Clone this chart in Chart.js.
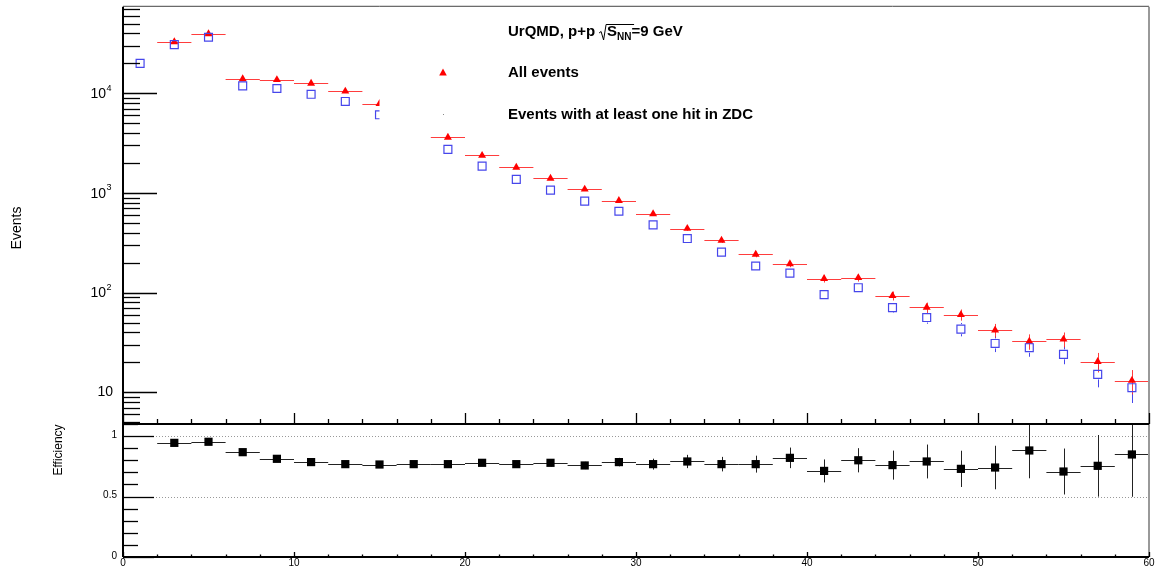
<!DOCTYPE html>
<html>
<head>
<meta charset="utf-8">
<script src="https://cdn.jsdelivr.net/npm/chart.js@4.4.0/dist/chart.umd.min.js"></script>
<style>
  body { margin: 0; background: #fff; }
  #wrap { position: relative; width: 1165px; height: 572px; }
  canvas { position: absolute; left: 0; top: 0; }
</style>
</head>
<body>
<div id="wrap">
  <canvas id="eventsChart" width="1165" height="572"></canvas>
  <canvas id="effChart" width="1165" height="572"></canvas>
</div>
<script>
// bins of width 2, centres
const binCenters = [1,3,5,7,9,11,13,15,17,19,21,23,25,27,29,31,33,35,37,39,41,43,45,47,49,51,53,55,57,59];
const binHalf = 1;
const allEvents = [null,32900,39500,14000,13700,12600,10500,7900,null,3610,2380,1810,1400,1090,838,617,440,334,242,194,138,141,93,71,60,42,32.4,34,20.3,13.1];
const allErr    = [null,181,199,118,117,112,102,89,null,60,49,43,37,33,29,25,21,18,15.6,13.9,11.7,11.9,9.6,8.4,7.7,6.5,5.7,5.8,4.5,3.6];
const zdcEvents = [20000,30900,36600,11900,11200,9800,8300,6100,null,2740,1860,1370,1070,830,656,479,349,255,185,157,95.5,112,70.8,56.2,43,30.9,28,24,15.1,11.1];
const zdcErr    = [141,176,191,109,106,99,91,78,null,52,43,37,33,29,26,22,19,16,13.6,12.5,9.8,10.6,8.4,7.5,6.6,5.6,5.3,4.9,3.9,3.3];
const efficiency = [null,0.944,0.953,0.867,0.812,0.785,0.768,0.765,0.768,0.768,0.779,0.768,0.779,0.757,0.785,0.768,0.79,0.768,0.768,0.82,0.712,0.80,0.76,0.79,0.729,0.74,0.881,0.707,0.754,0.848];
const effErr     = [null,0.005,0.005,0.01,0.01,0.01,0.012,0.015,0.015,0.02,0.02,0.025,0.03,0.03,0.035,0.045,0.055,0.06,0.07,0.085,0.095,0.10,0.12,0.14,0.15,0.18,0.23,0.19,0.255,0.35];
const logTickLabels = [[10, ''], [100, '2'], [1000, '3'], [10000, '4']];
const effTickLabels = [[0, '0'], [0.5, '0.5'], [1, '1']];
const xTickLabels = [0, 10, 20, 30, 40, 50, 60];

const FONT = '"Liberation Sans", Arial, Helvetica, sans-serif';
const RED = 'rgb(255,0,0)';
const BLUE = 'rgb(70,70,235)';

function toPoints(vals) {
  return binCenters.map((c, i) => ({ x: c, y: vals[i] }));
}

function line(ctx, x1, y1, x2, y2) {
  ctx.beginPath();
  ctx.moveTo(x1, y1);
  ctx.lineTo(x2, y2);
  ctx.stroke();
}

function clipArea(ctx, a) {
  ctx.beginPath();
  ctx.rect(a.left, a.top, a.right - a.left, a.bottom - a.top);
  ctx.clip();
}

// ---------- top panel: events, log scale ----------
const eventsDecor = {
  id: 'eventsDecor',
  beforeDatasetsDraw(chart) {
    const { ctx, chartArea: a, scales: { x, y } } = chart;
    ctx.save();
    clipArea(ctx, a);
    ctx.lineWidth = 1;
    // blue error bars, drawn outside the open square
    ctx.strokeStyle = BLUE;
    binCenters.forEach((c, i) => {
      const v = zdcEvents[i];
      if (v == null) return;
      const px = Math.round(x.getPixelForValue(c)) + 0.5;
      const py = y.getPixelForValue(v);
      const hi = y.getPixelForValue(v + zdcErr[i]);
      const lo = y.getPixelForValue(v - zdcErr[i]);
      if (py - hi > 5) line(ctx, px, py - 5, px, hi);
      if (lo - py > 5) line(ctx, px, py + 5, px, lo);
    });
    // red bin-width bars and errors for all events
    ctx.strokeStyle = 'rgba(255,40,40,0.9)';
    binCenters.forEach((c, i) => {
      const v = allEvents[i];
      if (v == null) return;
      const py = Math.round(y.getPixelForValue(v)) + 0.5;
      line(ctx, x.getPixelForValue(c - binHalf), py, x.getPixelForValue(c + binHalf), py);
      const px = Math.round(x.getPixelForValue(c)) + 0.5;
      line(ctx, px, y.getPixelForValue(v + allErr[i]), px, y.getPixelForValue(v - allErr[i]));
    });
    ctx.restore();
  },
  afterDatasetsDraw(chart) {
    const { ctx, chartArea: a, scales: { x, y } } = chart;
    ctx.save();

    // legend box (white, no border) covering part of the data
    ctx.fillStyle = '#fff';
    const boxLeft = x.getPixelForValue(15);
    ctx.fillRect(boxLeft, a.top + 1, 1000 - boxLeft, 132 - a.top);

    ctx.fillStyle = '#000';
    ctx.textBaseline = 'middle';
    ctx.textAlign = 'left';
    ctx.font = 'bold 15px ' + FONT;
    let tx = 508;
    ctx.fillText('UrQMD, p+p', tx, 32);
    tx += ctx.measureText('UrQMD, p+p').width + 6;
    // square root sign
    ctx.strokeStyle = '#000';
    ctx.lineWidth = 1;
    ctx.beginPath();
    ctx.moveTo(tx - 2, 33);
    ctx.lineTo(tx, 31.5);
    ctx.lineTo(tx + 2.5, 40);
    ctx.lineTo(tx + 5, 24.5);
    ctx.lineTo(tx + 33, 24.5);
    ctx.stroke();
    tx += 6;
    ctx.fillText('S', tx, 32);
    tx += ctx.measureText('S').width;
    ctx.font = 'bold 10px ' + FONT;
    ctx.fillText('NN', tx, 37);
    tx += ctx.measureText('NN').width;
    ctx.font = 'bold 15px ' + FONT;
    ctx.fillText('=9 GeV', tx, 32);

    ctx.fillText('All events', 508, 73);
    ctx.fillText('Events with at least one hit in ZDC', 508, 115);
    // legend markers
    ctx.fillStyle = RED;
    ctx.beginPath();
    ctx.moveTo(443, 68.5);
    ctx.lineTo(446.8, 75.5);
    ctx.lineTo(439.2, 75.5);
    ctx.closePath();
    ctx.fill();
    ctx.fillStyle = '#888';
    ctx.fillRect(443, 114, 1, 1);

    // frame
    ctx.strokeStyle = '#444';
    ctx.lineWidth = 1;
    line(ctx, a.left, a.top - 0.5, a.right, a.top - 0.5);
    ctx.strokeStyle = '#999';
    ctx.lineWidth = 2;
    line(ctx, a.right, a.top, a.right, a.bottom);
    ctx.strokeStyle = '#000';
    line(ctx, a.left, a.top, a.left, a.bottom);
    line(ctx, a.left, a.bottom, a.right, a.bottom);

    // log y ticks, pointing inward
    ctx.lineWidth = 1.3;
    for (let d = 1; d <= 10000; d *= 10) {
      for (let m = 1; m <= 9; m++) {
        const v = m * d;
        if (v < y.min || v > y.max) continue;
        const py = Math.round(y.getPixelForValue(v)) + 0.5;
        line(ctx, a.left, py, a.left + (m === 1 ? 34 : 17), py);
      }
    }
    // x ticks on the bottom edge, pointing up
    for (let v = 0; v <= 60; v += 2) {
      const px = Math.round(x.getPixelForValue(v)) + 0.5;
      line(ctx, px, a.bottom, px, a.bottom - (v % 10 === 0 ? 11 : 5));
    }

    // y tick labels
    logTickLabels.forEach(([v, ex]) => {
      const py = y.getPixelForValue(v);
      ctx.fillStyle = '#000';
      ctx.textAlign = 'right';
      ctx.font = '14px ' + FONT;
      if (ex === '') {
        ctx.fillText('10', 113, py);
      } else {
        ctx.fillText('10', 106, py + 1);
        ctx.textAlign = 'left';
        ctx.font = '9px ' + FONT;
        ctx.fillText(ex, 106.5, py - 5);
      }
    });

    // axis title
    ctx.save();
    ctx.translate(17, 228);
    ctx.rotate(-Math.PI / 2);
    ctx.textAlign = 'center';
    ctx.font = '14px ' + FONT;
    ctx.fillText('Events', 0, 0);
    ctx.restore();

    ctx.restore();
  }
};

new Chart(document.getElementById('eventsChart'), {
  type: 'scatter',
  data: {
    datasets: [
      {
        label: 'Events with at least one hit in ZDC',
        data: toPoints(zdcEvents),
        pointStyle: 'rect',
        pointRadius: 5.6,
        borderWidth: 1.2,
        borderColor: BLUE,
        backgroundColor: 'rgba(0,0,0,0)'
      },
      {
        label: 'All events',
        data: toPoints(allEvents),
        pointStyle: 'triangle',
        pointRadius: 4.6,
        borderWidth: 0,
        backgroundColor: RED
      }
    ]
  },
  options: {
    responsive: false,
    animation: false,
    devicePixelRatio: 1,
    layout: { padding: { left: 123, right: 16, top: 5, bottom: 148 } },
    scales: {
      x: { type: 'linear', min: 0, max: 60, display: false },
      y: { type: 'logarithmic', min: 4.8, max: 74000, display: false }
    },
    plugins: { legend: { display: false }, tooltip: { enabled: false } }
  },
  plugins: [eventsDecor]
});

// ---------- bottom panel: efficiency ----------
const effDecor = {
  id: 'effDecor',
  beforeDatasetsDraw(chart) {
    const { ctx, chartArea: a, scales: { x, y } } = chart;
    ctx.save();
    // dotted reference lines
    ctx.strokeStyle = '#999';
    ctx.lineWidth = 1;
    ctx.setLineDash([1, 2]);
    [0.5, 1].forEach(v => {
      const py = Math.round(y.getPixelForValue(v)) + 0.5;
      line(ctx, a.left, py, a.right, py);
    });
    ctx.setLineDash([]);
    clipArea(ctx, a);
    ctx.strokeStyle = '#222';
    binCenters.forEach((c, i) => {
      const v = efficiency[i];
      if (v == null) return;
      const py = Math.round(y.getPixelForValue(v)) + 0.5;
      line(ctx, x.getPixelForValue(c - binHalf), py, x.getPixelForValue(c + binHalf), py);
      const px = Math.round(x.getPixelForValue(c)) + 0.5;
      line(ctx, px, y.getPixelForValue(v + effErr[i]), px, y.getPixelForValue(v - effErr[i]));
    });
    ctx.restore();
  },
  afterDatasetsDraw(chart) {
    const { ctx, chartArea: a, scales: { x, y } } = chart;
    ctx.save();
    ctx.strokeStyle = '#999';
    ctx.lineWidth = 2;
    line(ctx, a.right, a.top, a.right, a.bottom);
    ctx.strokeStyle = '#000';
    line(ctx, a.left, a.top, a.right, a.top);
    line(ctx, a.left, a.top, a.left, a.bottom);
    line(ctx, a.left, a.bottom, a.right, a.bottom);

    ctx.lineWidth = 1.3;
    for (let k = 0; k <= 11; k++) {
      const v = k / 10;
      const py = Math.round(y.getPixelForValue(v)) + 0.5;
      line(ctx, a.left, py, a.left + (k % 5 === 0 ? 31 : 15), py);
    }
    for (let v = 0; v <= 60; v += 2) {
      const px = Math.round(x.getPixelForValue(v)) + 0.5;
      line(ctx, px, a.bottom, px, a.bottom - (v % 10 === 0 ? 5 : 2.5));
    }

    ctx.fillStyle = '#000';
    ctx.font = '10px ' + FONT;
    ctx.textBaseline = 'middle';
    ctx.textAlign = 'right';
    effTickLabels.forEach(([v, t]) => {
      ctx.fillText(t, 117, y.getPixelForValue(v) - 1);
    });
    ctx.textAlign = 'center';
    xTickLabels.forEach(v => {
      ctx.fillText(String(v), x.getPixelForValue(v), 563);
    });

    ctx.save();
    ctx.translate(59, 450);
    ctx.rotate(-Math.PI / 2);
    ctx.textAlign = 'center';
    ctx.font = '12px ' + FONT;
    ctx.fillText('Efficiency', 0, 0);
    ctx.restore();

    ctx.restore();
  }
};

new Chart(document.getElementById('effChart'), {
  type: 'scatter',
  data: {
    datasets: [{
      label: 'Efficiency',
      data: toPoints(efficiency),
      pointStyle: 'rect',
      pointRadius: 5.8,
      borderWidth: 0,
      backgroundColor: '#000'
    }]
  },
  options: {
    responsive: false,
    animation: false,
    devicePixelRatio: 1,
    layout: { padding: { left: 123, right: 16, top: 424, bottom: 15 } },
    scales: {
      x: { type: 'linear', min: 0, max: 60, display: false },
      y: { type: 'linear', min: 0, max: 1.1, display: false }
    },
    plugins: { legend: { display: false }, tooltip: { enabled: false } }
  },
  plugins: [effDecor]
});
</script>
</body>
</html>
